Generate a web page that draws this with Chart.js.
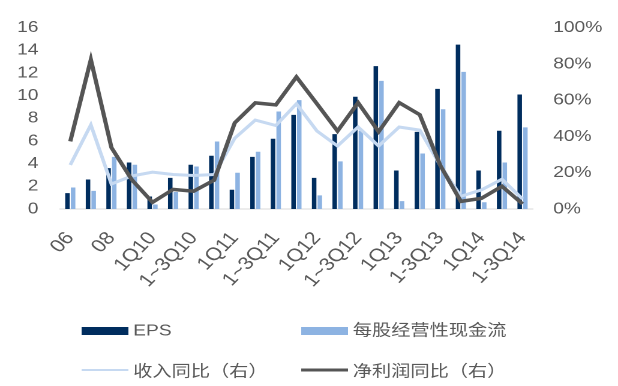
<!DOCTYPE html>
<html>
<head>
<meta charset="utf-8">
<script src="https://cdn.jsdelivr.net/npm/chart.js@4/dist/chart.umd.min.js"></script>
<style>
  html, body { margin: 0; padding: 0; background: #fff; overflow: hidden; }
  /* the chart is laid out narrow and widened on screen */
  #wrap { width: 515px; height: 386px; transform: scaleX(1.2); transform-origin: 0 0; }
</style>
</head>
<body>
<div id="wrap"><canvas id="chart" width="515" height="386"></canvas></div>
<script>
const periods = ['06', '07', '08', '09', '1Q10', '1H10', '1~3Q10', '10', '1Q11', '1H11', '1~3Q11', '11',
                 '1Q12', '1H12', '1~3Q12', '12', '1Q13', '1H13', '1-3Q13', '13', '1Q14', '1H14', '1-3Q14'];
const eps        = [1.4, 2.6, 3.6, 4.1, 1.1, 2.75, 3.9, 4.7, 1.7, 4.6, 6.2, 8.3, 2.75, 6.6, 9.9, 12.6, 3.4, 6.8, 10.6, 14.5, 3.4, 6.9, 10.1];
const cashFlow   = [1.9, 1.6, 4.6, 3.9, 0.4, 1.5, 3.75, 5.95, 3.2, 5.05, 8.6, 9.6, 1.2, 4.2, 6.9, 11.3, 0.7, 4.9, 8.8, 12.1, 0.6, 4.1, 7.2];
const revenueYoy = [24.3, 46.4, 13.8, 18.2, 20.3, 19, 18.5, 19, 39, 49, 46, 58, 43, 34.7, 45.2, 34.7, 45.2, 43.5, 24, 7, 10.5, 16.4, 5.5];
const profitYoy  = [37.3, 82.4, 33.9, 16, 3.7, 10.8, 9.8, 15.9, 47.5, 58.5, 57.4, 72.8, 58, 43, 58.6, 42.6, 58.6, 52, 24, 4.2, 5.9, 12.5, 2.8];

const FONT = "'Liberation Sans', Arial, 'Noto Sans CJK SC', sans-serif";
const TEXT = '#595959';
const NAVY = '#002d5e';
const SKY = '#8db3e2';
const PALE = '#c6d9f1';
const GRAY = '#555555';

// two-by-two legend under the axis labels
const gridLegend = {
  id: 'gridLegend',
  afterDraw(chart) {
    const ctx = chart.ctx;
    const slots = [[68, 331], [251, 331], [68, 372], [251, 372]];
    ctx.save();
    ctx.font = '16px ' + FONT;
    ctx.textBaseline = 'middle';
    chart.data.datasets.forEach((ds, i) => {
      const [x, y] = slots[i];
      if (ds.type === 'line') {
        ctx.strokeStyle = ds.borderColor;
        ctx.lineWidth = i === 2 ? 2 : 3;
        ctx.beginPath();
        ctx.moveTo(x, y - 2);
        ctx.lineTo(x + 39, y - 2);
        ctx.stroke();
      } else {
        ctx.fillStyle = ds.backgroundColor;
        ctx.fillRect(x, y - 4, 39, 8);
      }
      ctx.fillStyle = TEXT;
      ctx.fillText(ds.label, x + 43, y);
    });
    ctx.restore();
  }
};

new Chart(document.getElementById('chart'), {
  type: 'bar',
  data: {
    labels: periods,
    datasets: [
      { type: 'bar', label: 'EPS', data: eps, backgroundColor: NAVY, yAxisID: 'y', order: 2,
        categoryPercentage: 0.55, barPercentage: 0.8 },
      { type: 'bar', label: '每股经营性现金流', data: cashFlow, backgroundColor: SKY, yAxisID: 'y', order: 2,
        categoryPercentage: 0.55, barPercentage: 0.8 },
      { type: 'line', label: '收入同比（右）', data: revenueYoy, borderColor: PALE, borderWidth: 3,
        pointRadius: 0, tension: 0, yAxisID: 'y1', order: 1 },
      { type: 'line', label: '净利润同比（右）', data: profitYoy, borderColor: GRAY, borderWidth: 3.5,
        pointRadius: 0, tension: 0, yAxisID: 'y1', order: 0 }
    ]
  },
  options: {
    responsive: false,
    devicePixelRatio: 2,
    animation: false,
    layout: { padding: { top: 17, left: 0, right: 0, bottom: 0 } },
    plugins: {
      legend: { display: false },
      tooltip: { enabled: false }
    },
    scales: {
      x: {
        grid: { display: false, drawTicks: false },
        border: { display: true, color: '#d9d9d9', width: 1 },
        ticks: {
          // 50deg here reads as 45deg once the wrapper is widened
          color: TEXT, font: { family: FONT, size: 18 }, padding: 19,
          autoSkip: false, minRotation: 50, maxRotation: 50,
          callback: (v, i) => (i % 2 === 0 ? periods[i] : '')
        },
        afterFit: s => { s.height = 177; }
      },
      y: {
        position: 'left', min: 0, max: 16,
        grid: { display: false, drawTicks: false },
        border: { display: false },
        ticks: { stepSize: 2, color: TEXT, font: { family: FONT, size: 16 }, padding: 18 },
        afterFit: s => { s.width = 50; }
      },
      y1: {
        position: 'right', min: 0, max: 100,
        grid: { display: false, drawTicks: false },
        border: { display: false },
        ticks: { stepSize: 20, color: TEXT, font: { family: FONT, size: 16 }, padding: 17,
                 callback: v => v + '%' },
        afterFit: s => { s.width = 71; }
      }
    }
  },
  plugins: [gridLegend]
});
</script>
</body>
</html>
